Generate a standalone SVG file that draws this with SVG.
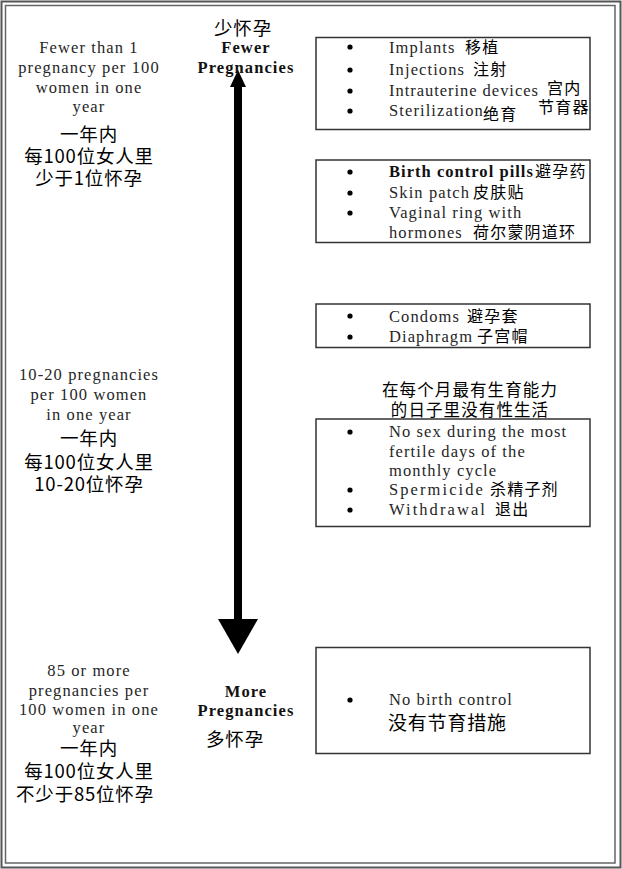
<svg xmlns="http://www.w3.org/2000/svg" width="622" height="869" viewBox="0 0 622 869">
<style>
.en{font-family:"Liberation Serif","Times New Roman",serif;font-size:16.5px;letter-spacing:1.1px;fill:#262626}
.b{font-weight:bold;fill:#111}
.cn{font-family:"Noto Sans CJK SC","Noto Sans",sans-serif;font-size:16px;letter-spacing:1.2px;fill:#000}
.cnl{font-family:"Noto Sans CJK SC","Noto Sans",sans-serif;font-size:18.5px;letter-spacing:0.8px;fill:#000}
.cnm{font-family:"Noto Sans CJK SC","Noto Sans",sans-serif;font-size:16.5px;letter-spacing:1.1px;fill:#000}
.mid{text-anchor:middle}
.box{fill:none;stroke:#333;stroke-width:1.5}
.dot{fill:#000}
</style>
<rect x="0" y="0" width="622" height="869" fill="#fff"/>
<g id="frame" fill="none">
<rect x="1.5" y="1.5" width="619" height="866" stroke="#555" stroke-width="2"/>
<rect x="5.5" y="5.5" width="609.5" height="857.5" stroke="#666" stroke-width="1.5"/>
</g>
<g id="connectors">
<rect x="234" y="85" width="8" height="536" fill="#000"/>
<polygon points="238,70 230,87 246,87" fill="#000"/>
<polygon points="218,619 258,619 238,654" fill="#000"/>
</g>
<g id="label-top-left">
<text class="en mid" x="89" y="53">Fewer than 1</text>
<text class="en mid" x="89" y="73">pregnancy per 100</text>
<text class="en mid" x="89" y="93">women in one</text>
<text class="en mid" x="89" y="112">year</text>
<text class="cnl mid" x="89" y="141">一年内</text>
<text class="cnl mid" x="89" y="163">每100位女人里</text>
<text class="cnl mid" x="89" y="185">少于1位怀孕</text>
</g>
<g id="label-mid-left">
<text class="en mid" x="89" y="380">10-20 pregnancies</text>
<text class="en mid" x="89" y="400">per 100 women</text>
<text class="en mid" x="89" y="420">in one year</text>
<text class="cnl mid" x="89" y="445">一年内</text>
<text class="cnl mid" x="89" y="469">每100位女人里</text>
<text class="cnl mid" x="89" y="491">10-20位怀孕</text>
</g>
<g id="label-bottom-left">
<text class="en mid" x="89" y="676">85 or more</text>
<text class="en mid" x="89" y="696">pregnancies per</text>
<text class="en mid" x="89" y="715">100 women in one</text>
<text class="en mid" x="89" y="733">year</text>
<text class="cnl mid" x="89" y="755">一年内</text>
<text class="cnl mid" x="89" y="778">每100位女人里</text>
<text class="cnl mid" x="85" y="801">不少于85位怀孕</text>
</g>
<g id="label-fewer">
<text class="cnl mid" x="243" y="35">少怀孕</text>
<text class="en b mid" x="246" y="53">Fewer</text>
<text class="en b mid" x="246" y="73">Pregnancies</text>
</g>
<g id="label-more">
<text class="en b mid" x="246" y="697">More</text>
<text class="en b mid" x="246" y="716">Pregnancies</text>
<text class="cnl mid" x="235" y="746">多怀孕</text>
</g>
<g id="box-long-acting">
<rect class="box" x="316" y="37.5" width="274" height="92"/>
<circle class="dot" cx="350" cy="47" r="2.6"/>
<circle class="dot" cx="350" cy="70" r="2.6"/>
<circle class="dot" cx="350" cy="91" r="2.6"/>
<circle class="dot" cx="350" cy="111" r="2.6"/>
<text class="en" x="389" y="53">Implants</text>
<text class="cn" x="465" y="53">移植</text>
<text class="en" x="389" y="75">Injections</text>
<text class="cn" x="473" y="75">注射</text>
<text class="en" x="389" y="96" textLength="150" lengthAdjust="spacing">Intrauterine devices</text>
<text class="cn" x="547" y="94">宫内</text>
<text class="cn" x="538" y="113">节育器</text>
<text class="en" x="389" y="116">Sterilization</text>
<text class="cn" x="483" y="120">绝育</text>
</g>
<g id="box-hormonal">
<rect class="box" x="316" y="160" width="274" height="82.5"/>
<circle class="dot" cx="350" cy="172" r="2.6"/>
<circle class="dot" cx="350" cy="193" r="2.6"/>
<circle class="dot" cx="350" cy="213" r="2.6"/>
<text class="en b" x="389" y="177" textLength="145" lengthAdjust="spacing">Birth control pills</text>
<text class="cn" x="535" y="177">避孕药</text>
<text class="en" x="389" y="198">Skin patch</text>
<text class="cn" x="473" y="198">皮肤贴</text>
<text class="en" x="389" y="218">Vaginal ring with</text>
<text class="en" x="389" y="238">hormones</text>
<text class="cn" x="473" y="238">荷尔蒙阴道环</text>
</g>
<g id="box-barrier">
<rect class="box" x="316" y="304" width="274" height="43.5"/>
<circle class="dot" cx="350" cy="316" r="2.6"/>
<circle class="dot" cx="350" cy="337" r="2.6"/>
<text class="en" x="389" y="322">Condoms</text>
<text class="cn" x="467" y="322">避孕套</text>
<text class="en" x="389" y="342">Diaphragm</text>
<text class="cn" x="477" y="342">子宫帽</text>
</g>
<g id="box-behavioral">
<text class="cnm mid" x="470" y="396">在每个月最有生育能力</text>
<text class="cnm mid" x="470" y="416">的日子里没有性生活</text>
<rect class="box" x="316" y="419" width="274" height="107.5"/>
<circle class="dot" cx="350" cy="432" r="2.6"/>
<circle class="dot" cx="350" cy="490" r="2.6"/>
<circle class="dot" cx="350" cy="510" r="2.6"/>
<text class="en" x="389" y="437">No sex during the most</text>
<text class="en" x="389" y="457">fertile days of the</text>
<text class="en" x="389" y="476">monthly cycle</text>
<text class="en" x="389" y="495" textLength="95" lengthAdjust="spacing">Spermicide</text>
<text class="cn" x="490" y="495">杀精子剂</text>
<text class="en" x="389" y="515" textLength="97" lengthAdjust="spacing">Withdrawal</text>
<text class="cn" x="495" y="515">退出</text>
</g>
<g id="box-none">
<rect class="box" x="316" y="647.5" width="274" height="106"/>
<circle class="dot" cx="350" cy="700" r="2.6"/>
<text class="en" x="389" y="705">No birth control</text>
<text class="cnl" x="388" y="730" style="font-size:19px">没有节育措施</text>
</g>
</svg>
